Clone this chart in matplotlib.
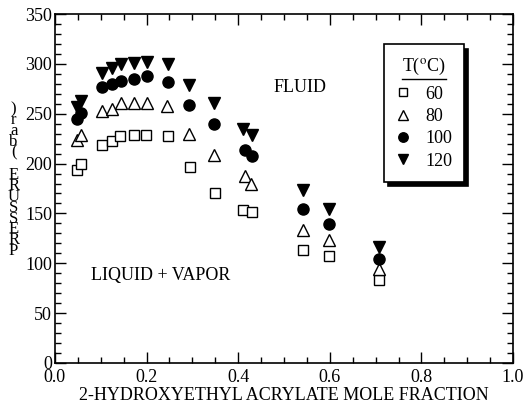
import numpy as np
import matplotlib
matplotlib.use("Agg")
import matplotlib.pyplot as plt
from matplotlib.ticker import MultipleLocator
from matplotlib.lines import Line2D

# mole fraction and pressure (bar) for each temperature
x60 = [0.049, 0.057, 0.103, 0.124, 0.143, 0.172, 0.199, 0.247, 0.295, 0.349, 0.411, 0.430, 0.542, 0.598, 0.708]
p60 = [194, 200, 219, 223, 228, 229, 229, 228, 197, 170, 153, 151, 113, 107, 83]

x80 = [0.049, 0.058, 0.103, 0.124, 0.144, 0.172, 0.200, 0.245, 0.293, 0.348, 0.415, 0.429, 0.542, 0.598, 0.708]
p80 = [224, 229, 253, 255, 261, 261, 261, 258, 230, 209, 188, 180, 133, 123, 94]

x100 = [0.049, 0.057, 0.102, 0.124, 0.144, 0.172, 0.200, 0.247, 0.293, 0.348, 0.415, 0.430, 0.542, 0.598, 0.708]
p100 = [245, 251, 277, 280, 283, 285, 288, 282, 259, 240, 214, 208, 154, 139, 104]

x120 = [0.049, 0.057, 0.102, 0.124, 0.144, 0.172, 0.200, 0.247, 0.293, 0.348, 0.411, 0.430, 0.542, 0.598, 0.708]
p120 = [257, 263, 291, 296, 300, 301, 302, 300, 279, 261, 235, 229, 173, 154, 116]

labels = ['60', '80', '100', '120']

plt.rcParams['font.family'] = ['Liberation Serif', 'DejaVu Serif']
plt.rcParams['mathtext.fontset'] = 'stix'

fig = plt.figure(figsize=(5.23, 4.12), dpi=100)
ax = fig.add_axes([0.105, 0.119, 0.876, 0.847])

ax.plot(x60, p60, 's', ms=7, mfc='white', mec='black', mew=1.0, ls='none', label=labels[0])
ax.plot(x80, p80, '^', ms=8, mfc='white', mec='black', mew=1.0, ls='none', label=labels[1])
ax.plot(x100, p100, 'o', ms=8, mfc='black', mec='black', ls='none', label=labels[2])
ax.plot(x120, p120, 'v', ms=9, mfc='black', mec='black', ls='none', label=labels[3])

ax.set_xlim(0, 1.0)
ax.set_ylim(0, 350)
ax.xaxis.set_major_locator(MultipleLocator(0.2))
ax.xaxis.set_minor_locator(MultipleLocator(0.05))
ax.yaxis.set_major_locator(MultipleLocator(50))
ax.yaxis.set_minor_locator(MultipleLocator(10))
ax.xaxis.set_major_formatter(plt.FuncFormatter(lambda v, p: f'{v:.1f}'))
ax.tick_params(which='both', direction='in', top=True, right=True, labelsize=13)
ax.tick_params(which='major', length=8, width=1)
ax.tick_params(which='minor', length=4, width=1)
ax.tick_params(axis='x', pad=4)
ax.tick_params(axis='y', pad=2)
for s in ax.spines.values():
    s.set_linewidth(1.2)

ax.set_xlabel('2-HYDROXYETHYL ACRYLATE MOLE FRACTION', fontsize=13, labelpad=1)

# y label is drawn as a column of upright letters, like the scan
ylab = 'PRESSURE (bar)'
fig.text(0.026, 0.755, '\n'.join(reversed(ylab)), fontsize=12, ha='center', va='top',
         linespacing=0.58)

ax.text(0.535, 276, 'FLUID', fontsize=13, ha='center', va='center', transform=ax.get_yaxis_transform())
ax.text(0.23, 88, 'LIQUID + VAPOR', fontsize=13, ha='center', va='center', transform=ax.get_yaxis_transform())

leg = ax.legend(loc='upper left', bbox_to_anchor=(0.719, 0.913), title='T($^{\\mathrm{o}}$C)',
                fontsize=13, title_fontsize=13, frameon=True, fancybox=False,
                shadow={'color': 'black', 'alpha': 1, 'ox': 3, 'oy': -3}, handletextpad=0.8,
                borderpad=0.65, labelspacing=0.3, handlelength=0.8, borderaxespad=0,
                markerscale=0.85)
leg.get_frame().set_edgecolor('black')
leg.get_frame().set_linewidth(1.2)
leg._legend_box.sep = 6
for t in leg.get_texts():
    t.set_ha('left')

# underline under the legend title
fig.canvas.draw()
r = fig.canvas.get_renderer()
bb = leg.get_title().get_window_extent(r).transformed(fig.transFigure.inverted())
fig.add_artist(Line2D([bb.x0, bb.x1], [bb.y0 - 0.004, bb.y0 - 0.004], color='black', lw=1.0,
                      transform=fig.transFigure))

fig.savefig('out.png', dpi=100)
